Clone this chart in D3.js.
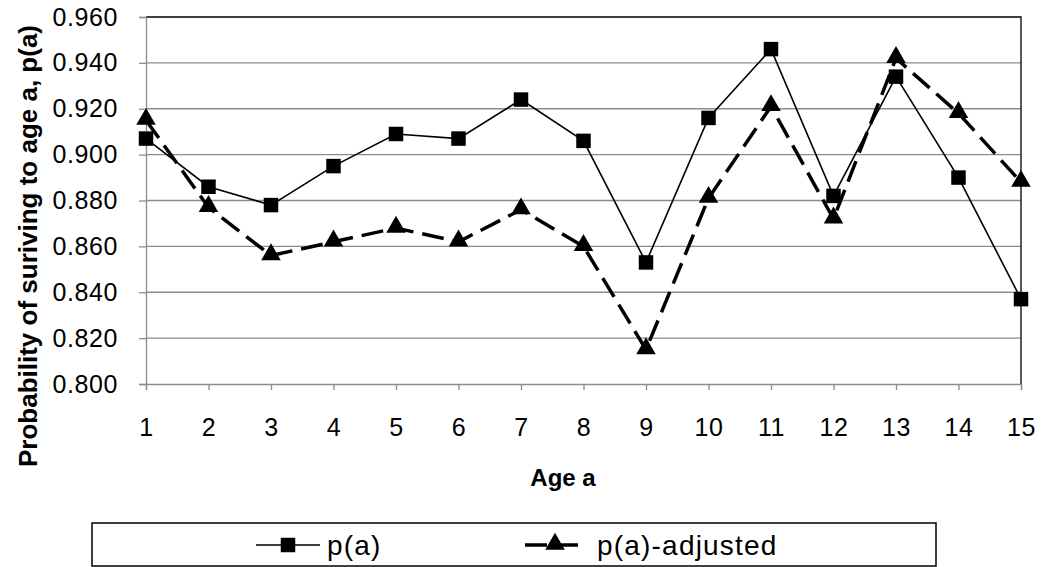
<!DOCTYPE html>
<html>
<head>
<meta charset="utf-8">
<script src="https://cdn.jsdelivr.net/npm/d3@7"></script>
<style>
  body { margin: 0; background: #fff; }
  svg text { font-family: Arial, "Liberation Sans", sans-serif; fill: #000; }
</style>
</head>
<body>
<div id="chart"></div>
<script>
'use strict';
// ages on the x axis
const ages = [1, 2, 3, 4, 5, 6, 7, 8, 9, 10, 11, 12, 13, 14, 15];
// survival probabilities
const pA = [0.907, 0.886, 0.878, 0.895, 0.909, 0.907, 0.924, 0.906, 0.853, 0.916, 0.946, 0.882, 0.934, 0.890, 0.837];
const pAdjusted = [0.915, 0.877, 0.856, 0.862, 0.868, 0.862, 0.876, 0.860, 0.815, 0.881, 0.921, 0.872, 0.942, 0.918, 0.888];
const yTicks = [0.800, 0.820, 0.840, 0.860, 0.880, 0.900, 0.920, 0.940, 0.960];
const seriesNames = ["p(a)", "p(a)-adjusted"];

const width = 1041, height = 567;
const margin = { left: 146, right: 20, top: 17, bottom: 183 };

const svg = d3.select("#chart").append("svg")
  .attr("width", width)
  .attr("height", height);

const x = d3.scaleLinear()
  .domain([1, 15])
  .range([margin.left, width - margin.right]);
const y = d3.scaleLinear()
  .domain([0.8, 0.96])
  .range([height - margin.bottom, margin.top]);

// grid lines
svg.append("g")
  .selectAll("line")
  .data(yTicks.slice(1, -1))
  .join("line")
  .attr("x1", x(1)).attr("x2", x(15))
  .attr("y1", d => y(d)).attr("y2", d => y(d))
  .attr("stroke", "#8c8c8c")
  .attr("stroke-width", 1.3);

// plot border top / right
svg.append("path")
  .attr("d", "M" + x(1) + "," + y(0.96) + "H" + x(15) + "V" + y(0.8))
  .attr("fill", "none")
  .attr("stroke", "#000")
  .attr("stroke-width", 1.3);

// axes
const xAxis = svg.append("g")
  .attr("transform", "translate(0," + y(0.8) + ")")
  .call(d3.axisBottom(x).tickValues(ages).tickFormat(d3.format("d")).tickSize(6).tickPadding(28));
const yAxis = svg.append("g")
  .attr("transform", "translate(" + x(1) + ",0)")
  .call(d3.axisLeft(y).tickValues(yTicks).tickFormat(d3.format(".3f")).tickSize(7).tickPadding(21));

[xAxis, yAxis].forEach(function (a) {
  a.select(".domain").attr("stroke", "#8c8c8c").attr("stroke-width", 1.3);
  a.selectAll(".tick line").attr("stroke", "#8c8c8c").attr("stroke-width", 1.3);
  a.selectAll(".tick text")
    .style("font-size", "25px")
    .style("letter-spacing", "0.6px")
    .style("font-family", "Arial, 'Liberation Sans', sans-serif")
    .attr("fill", "#000");
});

// axis titles
svg.append("text")
  .attr("x", 563)
  .attr("y", 486)
  .attr("text-anchor", "middle")
  .style("font-size", "24px")
  .style("font-weight", "bold")
  .text("Age a");

svg.append("text")
  .attr("transform", "translate(37,246) rotate(-90)")
  .attr("text-anchor", "middle")
  .style("font-size", "26px")
  .style("font-weight", "bold")
  .text("Probability of suriving to age a, p(a)");

// lines
const line = d3.line()
  .x((d, i) => x(ages[i]))
  .y(d => y(d));

svg.append("path")
  .datum(pA)
  .attr("d", line)
  .attr("fill", "none")
  .attr("stroke", "#000")
  .attr("stroke-width", 1.6);

svg.append("path")
  .datum(pAdjusted)
  .attr("d", line)
  .attr("fill", "none")
  .attr("stroke", "#000")
  .attr("stroke-width", 3.5)
  .attr("stroke-dasharray", "22,9");

const square = d3.symbol().type(d3.symbolSquare).size(210);
const triangle = d3.symbol().type(d3.symbolTriangle).size(165);

svg.append("g")
  .selectAll("path")
  .data(pAdjusted)
  .join("path")
  .attr("d", triangle)
  .attr("transform", (d, i) => "translate(" + x(ages[i]) + "," + (y(d) - 1) + ")")
  .attr("fill", "#000");

svg.append("g")
  .selectAll("path")
  .data(pA)
  .join("path")
  .attr("d", square)
  .attr("transform", (d, i) => "translate(" + x(ages[i]) + "," + y(d) + ")")
  .attr("fill", "#000");

// legend
const legend = svg.append("g");
legend.append("rect")
  .attr("x", 92).attr("y", 523)
  .attr("width", 844).attr("height", 43)
  .attr("fill", "#fff")
  .attr("stroke", "#000")
  .attr("stroke-width", 1.5);

const ly = 545;
legend.append("line")
  .attr("x1", 256).attr("x2", 320)
  .attr("y1", ly).attr("y2", ly)
  .attr("stroke", "#000").attr("stroke-width", 1.6);
legend.append("path")
  .attr("d", square)
  .attr("transform", "translate(288," + ly + ")");
legend.append("text")
  .attr("x", 327).attr("y", ly)
  .attr("dy", "0.35em")
  .style("font-size", "28px")
  .style("letter-spacing", "1.2px")
  .text(seriesNames[0]);

legend.append("line")
  .attr("x1", 525).attr("x2", 580)
  .attr("y1", ly).attr("y2", ly)
  .attr("stroke", "#000").attr("stroke-width", 3.5)
  .attr("stroke-dasharray", "22,9");
legend.append("path")
  .attr("d", triangle)
  .attr("transform", "translate(555," + (ly - 1) + ")");
legend.append("text")
  .attr("x", 597).attr("y", ly)
  .attr("dy", "0.35em")
  .style("font-size", "28px")
  .style("letter-spacing", "1.2px")
  .text(seriesNames[1]);
</script>
</body>
</html>
